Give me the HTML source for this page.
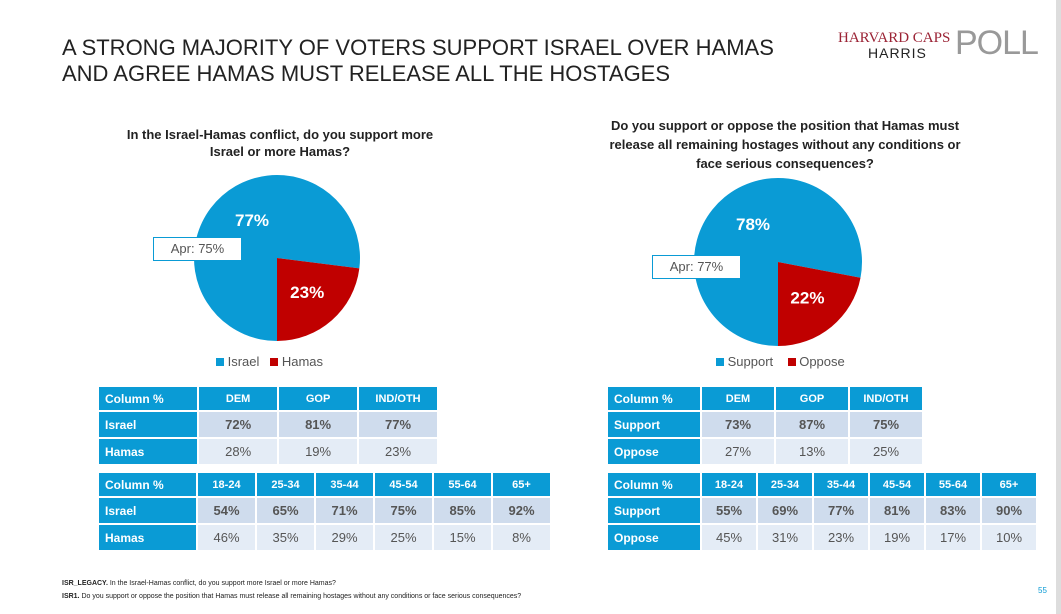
<!DOCTYPE html>
<html><head><meta charset="utf-8"><style>
body{margin:0;width:1061px;height:614px;background:#fff;font-family:"Liberation Sans",sans-serif;position:relative;overflow:hidden}
.a{position:absolute}
table{position:absolute;border-collapse:separate;border-spacing:2px;font-size:13px;table-layout:fixed}
td{height:25px;text-align:center;color:#555;padding:0;overflow:hidden;white-space:nowrap}
tr.hd td{height:23px}
td.h{background:#0a9bd5;color:#fff;font-weight:bold;font-size:11px}
td.l{background:#0a9bd5;color:#fff;font-weight:bold;text-align:left;padding-left:6px;font-size:12px}
tr.r1 td:not(.l){background:#cfdced;font-weight:bold}
tr.r2 td:not(.l){background:#e4ecf6}
</style></head><body>
<div class="a" style="left:62px;top:35px;font-size:22px;color:#222;line-height:26px">A STRONG MAJORITY OF VOTERS SUPPORT ISRAEL OVER HAMAS<br>AND AGREE HAMAS MUST RELEASE ALL THE HOSTAGES</div>
<div class="a" style="left:838px;top:30px;width:210px;height:40px">
<div class="a" style="left:0;top:0;font-family:'Liberation Serif',serif;color:#9b2335;font-size:15px;white-space:nowrap">HARVARD CAPS</div>
<div class="a" style="left:30px;top:15px;color:#222;font-size:14px;letter-spacing:1px">HARRIS</div>
<div class="a" style="left:117px;top:-6px;color:#999;font-size:34px;letter-spacing:-1px">POLL</div></div>
<div class="a" style="left:90px;top:126px;width:380px;text-align:center;font-weight:bold;font-size:13px;line-height:17px;color:#222">In the Israel-Hamas conflict, do you support more<br>Israel or more Hamas?</div>
<div class="a" style="left:580px;top:116px;width:410px;text-align:center;font-weight:bold;font-size:13px;line-height:19px;color:#222">Do you support or oppose the position that Hamas must<br>release all remaining hostages without any conditions or<br>face serious consequences?</div>
<svg class="a" style="left:0;top:0" width="1061" height="614" id="svg"></svg>
<div class="a" style="left:153px;top:237px;width:87px;height:22px;border:1px solid #0a9bd5;background:#fff;font-size:13px;color:#555;text-align:center;line-height:22px">Apr: 75%</div>
<div class="a" style="left:652px;top:255px;width:87px;height:22px;border:1px solid #0a9bd5;background:#fff;font-size:13px;color:#555;text-align:center;line-height:22px">Apr: 77%</div>
<div class="a" style="left:216px;top:354px;font-size:13px;color:#555"><span style="display:inline-block;width:8px;height:8px;background:#0a9bd5"></span> Israel &nbsp;&nbsp;<span style="display:inline-block;width:8px;height:8px;background:#c00000"></span> Hamas</div>
<div class="a" style="left:716px;top:354px;font-size:13px;color:#555"><span style="display:inline-block;width:8px;height:8px;background:#0a9bd5"></span> Support &nbsp;&nbsp;&nbsp;<span style="display:inline-block;width:8px;height:8px;background:#c00000"></span> Oppose</div>

<table style="left:97px;top:385px;width:342px"><colgroup><col style="width:97px"><col style="width:77px"><col style="width:77px"><col style="width:77px"></colgroup><tr class="hd"><td class="l h">Column %</td><td class="h">DEM</td><td class="h">GOP</td><td class="h">IND/OTH</td></tr>
<tr class="r1"><td class="l">Israel</td><td>72%</td><td>81%</td><td>77%</td></tr><tr class="r2"><td class="l">Hamas</td><td>28%</td><td>19%</td><td>23%</td></tr></table>
<table style="left:97px;top:471px;width:455px"><colgroup><col style="width:97px"><col style="width:57px"><col style="width:57px"><col style="width:57px"><col style="width:57px"><col style="width:57px"><col style="width:57px"></colgroup><tr class="hd"><td class="l h">Column %</td><td class="h">18-24</td><td class="h">25-34</td><td class="h">35-44</td><td class="h">45-54</td><td class="h">55-64</td><td class="h">65+</td></tr>
<tr class="r1"><td class="l">Israel</td><td>54%</td><td>65%</td><td>71%</td><td>75%</td><td>85%</td><td>92%</td></tr><tr class="r2"><td class="l">Hamas</td><td>46%</td><td>35%</td><td>29%</td><td>25%</td><td>15%</td><td>8%</td></tr></table>
<table style="left:606px;top:385px;width:317px"><colgroup><col style="width:92px"><col style="width:72px"><col style="width:72px"><col style="width:72px"></colgroup><tr class="hd"><td class="l h">Column %</td><td class="h">DEM</td><td class="h">GOP</td><td class="h">IND/OTH</td></tr>
<tr class="r1"><td class="l">Support</td><td>73%</td><td>87%</td><td>75%</td></tr><tr class="r2"><td class="l">Oppose</td><td>27%</td><td>13%</td><td>25%</td></tr></table>
<table style="left:606px;top:471px;width:430px"><colgroup><col style="width:92px"><col style="width:54px"><col style="width:54px"><col style="width:54px"><col style="width:54px"><col style="width:54px"><col style="width:54px"></colgroup><tr class="hd"><td class="l h">Column %</td><td class="h">18-24</td><td class="h">25-34</td><td class="h">35-44</td><td class="h">45-54</td><td class="h">55-64</td><td class="h">65+</td></tr>
<tr class="r1"><td class="l">Support</td><td>55%</td><td>69%</td><td>77%</td><td>81%</td><td>83%</td><td>90%</td></tr><tr class="r2"><td class="l">Oppose</td><td>45%</td><td>31%</td><td>23%</td><td>19%</td><td>17%</td><td>10%</td></tr></table>

<div class="a" style="left:62px;top:577px;font-size:7px;line-height:13px;color:#222"><b>ISR_LEGACY.</b> In the Israel-Hamas conflict, do you support more Israel or more Hamas?<br><b>ISR1.</b> Do you support or oppose the position that Hamas must release all remaining hostages without any conditions or face serious consequences?</div>
<div class="a" style="left:1038px;top:586px;font-size:8px;color:#0a9bd5">55</div>
<div class="a" style="left:1056px;top:0;width:5px;height:614px;background:#ddd"></div>
<script>
const pieLabels=[["Israel","Hamas"],["Support","Oppose"]];
const pieValues=[[77,23],[78,22]];
const pieCenters=[[277,258,83],[778,262,84]];
const svg=document.getElementById('svg');
const NS='http://www.w3.org/2000/svg';
function pt(cx,cy,r,deg){const a=(deg-90)*Math.PI/180;return [cx+r*Math.cos(a),cy+r*Math.sin(a)];}
pieValues.forEach((vals,i)=>{
 const [cx,cy,r]=pieCenters[i];
 const redDeg=vals[1]*3.6;
 const segs=[[180,180+(360-redDeg),'#0a9bd5',vals[0],0],[180-redDeg,180,'#c00000',vals[1],1]];
 segs.forEach(([s,e,c,v,k])=>{
  const p1=pt(cx,cy,r,s),p2=pt(cx,cy,r,e);
  const path=document.createElementNS(NS,'path');
  path.setAttribute('d',`M${cx},${cy}L${p1[0]},${p1[1]}A${r},${r} 0 ${e-s>180?1:0} 1 ${p2[0]},${p2[1]}Z`);
  path.setAttribute('fill',c);
  
  
  svg.appendChild(path);
  const m=(s+e)/2;const lp=pt(cx,cy,r*0.55,m);
  const t=document.createElementNS(NS,'text');
  let lx=k?lp[0]:cx-25,ly=k?lp[1]+6:cy-32;
  t.setAttribute('x',lx);t.setAttribute('y',ly);t.setAttribute('fill','#fff');
  t.setAttribute('font-size','17');t.setAttribute('font-weight','bold');t.setAttribute('text-anchor','middle');
  t.setAttribute('font-family','Liberation Sans, sans-serif');
  t.textContent=v+'%';
  
  
  svg.appendChild(t);
 });
});
</script>
</body></html>
